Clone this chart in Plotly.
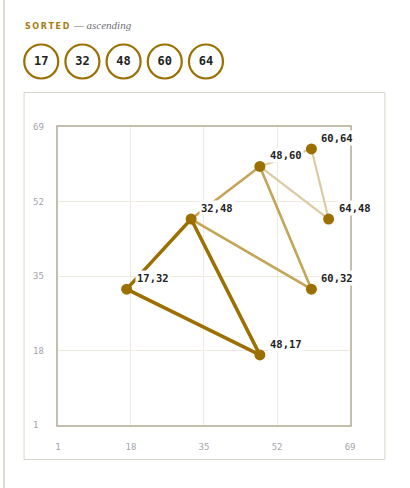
import plotly.graph_objects as go

W, H = 410, 488

# ---- data ----
sorted_values = [17, 32, 48, 60, 64]
point_x = [17, 32, 48, 48, 60, 60, 64]
point_y = [32, 48, 17, 60, 32, 64, 48]
triangles = [
    [(17, 32), (32, 48), (48, 17)],
    [(32, 48), (48, 60), (60, 32)],
    [(48, 60), (60, 64), (64, 48)],
]
tri_colors = ["#9b6f00", "#c4a456", "#dccaa0"]
tri_widths = [3.5, 2.6, 2.2]
tick_vals = [1, 18, 35, 52, 69]
tick_text = ["1", "18", "35", "52", "69"]
title_main = "SORTED"
title_sub = "— ascending"

GOLD = "#9b6f00"
MONO = "DejaVu Sans Mono"

# plot area in pixels
PL, PR, PT, PB = 56, 354, 127, 425


def px(x):
    return x / W


def py(y):
    return (H - y) / H


fig = go.Figure()

# triangles (lightest drawn first)
for tri, col, wd in reversed(list(zip(triangles, tri_colors, tri_widths))):
    xs = [p[0] for p in tri] + [tri[0][0]]
    ys = [p[1] for p in tri] + [tri[0][1]]
    fig.add_trace(go.Scatter(x=xs, y=ys, mode="lines",
                             line=dict(color=col, width=wd),
                             hoverinfo="skip", showlegend=False,
                             xaxis="x", yaxis="y"))

fig.add_trace(go.Scatter(x=point_x, y=point_y, mode="markers",
                         marker=dict(color=GOLD, size=11),
                         hoverinfo="skip", showlegend=False,
                         xaxis="x", yaxis="y"))

# header circles on a pixel-scaled overlay axis
fig.add_trace(go.Scatter(
    x=[39 + 42 * i for i in range(len(sorted_values))],
    y=[61.5] * len(sorted_values),
    mode="markers+text",
    text=[str(v) for v in sorted_values],
    textposition="middle center",
    textfont=dict(family=MONO, size=12, color="#222222", weight="bold"),
    marker=dict(size=34, color="white", line=dict(color=GOLD, width=2.2)),
    hoverinfo="skip", showlegend=False, xaxis="x2", yaxis="y2"))

annotations = []
for x, y in zip(point_x, point_y):
    annotations.append(dict(
        x=x, y=y, xref="x", yref="y", text=f"{x},{y}", showarrow=False,
        xanchor="left", yanchor="middle", xshift=8, yshift=11,
        bgcolor="white", borderpad=1,
        font=dict(family=MONO, size=10.5, color="#222222", weight="bold")))

for v, t in zip(tick_vals, tick_text):
    annotations.append(dict(
        x=px(29), y=v, xref="paper", yref="y", text=t, showarrow=False,
        xanchor="left", yanchor="middle",
        font=dict(family=MONO, size=9, color="#a4a4ac")))

annotations.append(dict(
    x=px(20), y=py(26), xref="paper", yref="paper",
    text="\u2009".join(title_main), showarrow=False,
    xanchor="left", yanchor="middle",
    font=dict(family="DejaVu Sans", size=8, color="#a67c12", weight="bold")))
annotations.append(dict(
    x=px(69), y=py(25), xref="paper", yref="paper",
    text=title_sub, showarrow=False, xanchor="left", yanchor="middle",
    font=dict(family="Liberation Serif", size=11, color="#707078",
              style="italic")))

shapes = [
    dict(type="rect", xref="paper", yref="paper",
         x0=px(21.5), x1=px(389.5), y0=py(92.5), y1=py(459.5),
         line=dict(color="#d9d5c6", width=1), layer="below"),
    dict(type="line", xref="paper", yref="paper",
         x0=px(1), x1=px(1), y0=0, y1=1,
         line=dict(color="#e0dccd", width=2), layer="below"),
]

axis_common = dict(
    range=[1, 69], tickvals=tick_vals, showgrid=True,
    gridcolor="#efeadf", gridwidth=1, zeroline=False,
    showline=True, mirror=True, linecolor="#c4beac", linewidth=2,
    ticks="", fixedrange=True)

fig.update_layout(
    width=W, height=H,
    margin=dict(l=0, r=0, t=0, b=0),
    paper_bgcolor="white", plot_bgcolor="rgba(0,0,0,0)",
    xaxis=dict(domain=[px(PL), px(PR)], ticktext=tick_text,
               showticklabels=True, ticklabelstandoff=12,
               tickfont=dict(family=MONO, size=9, color="#a4a4ac"),
               anchor="y", **axis_common),
    yaxis=dict(domain=[py(PB), py(PT)], showticklabels=False,
               anchor="x", **axis_common),
    xaxis2=dict(domain=[0, 1], range=[0, W], visible=False,
                anchor="y2", fixedrange=True),
    yaxis2=dict(domain=[0, 1], range=[H, 0], visible=False,
                anchor="x2", fixedrange=True),
    annotations=annotations, shapes=shapes,
)

fig.write_html(
    "out.html",
    config={"displayModeBar": False},
    post_script="document.body.style.margin='0';"
                "document.body.style.overflow='hidden';",
)
